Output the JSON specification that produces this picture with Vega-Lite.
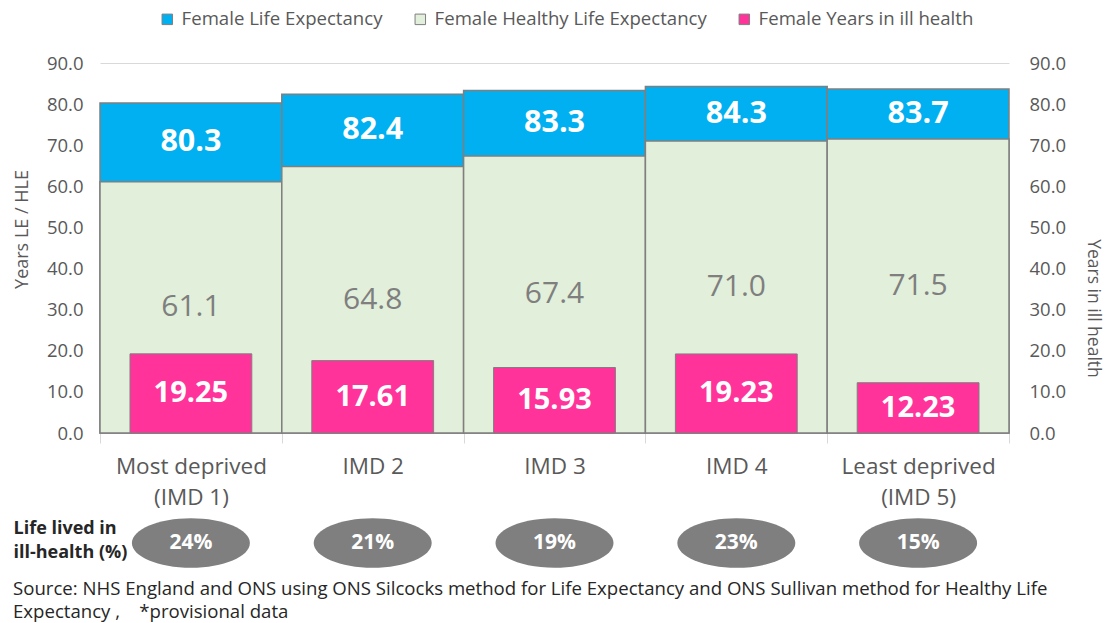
{
  "$schema": "https://vega.github.io/schema/vega-lite/v6.json",
  "padding": {"left": 13, "top": 10, "right": 8, "bottom": 2},
  "background": "white",
  "config": {"font": "Open Sans", "view": {"stroke": null}, "concat": {"spacing": 6}},
  "title": {
    "text": ["Source: NHS England and ONS using ONS Silcocks method for Life Expectancy and ONS Sullivan method for Healthy Life", "Expectancy ,\u00a0\u00a0\u00a0 *provisional data"],
    "orient": "bottom", "anchor": "start", "frame": "bounds",
    "fontSize": 18.6, "fontWeight": "normal", "color": "#262626", "lineHeight": 23, "offset": 9
  },
  "datasets": {
    "imd": [
      {"area": "Most deprived (IMD 1)", "le": 80.3, "hle": 61.1, "ill": 19.25, "pct": 0.24},
      {"area": "IMD 2", "le": 82.4, "hle": 64.8, "ill": 17.61, "pct": 0.21},
      {"area": "IMD 3", "le": 83.3, "hle": 67.4, "ill": 15.93, "pct": 0.19},
      {"area": "IMD 4", "le": 84.3, "hle": 71.0, "ill": 19.23, "pct": 0.23},
      {"area": "Least deprived (IMD 5)", "le": 83.7, "hle": 71.5, "ill": 12.23, "pct": 0.15}
    ]
  },
  "vconcat": [
    {
      "width": 909,
      "height": 370,
      "data": {"name": "imd"},
      "encoding": {
        "x": {
          "field": "area", "type": "nominal", "sort": null,
          "scale": {"paddingInner": 0, "paddingOuter": 0},
          "axis": {
            "title": null, "labelAngle": 0, "labelFontSize": 22.5, "labelColor": "#595959",
            "labelLineHeight": 31, "labelPadding": 12,
            "labelExpr": "split(replace(datum.label, ' (', '|('), '|')",
            "domain": false, "ticks": true, "tickBand": "extent", "tickColor": "#d9d9d9", "tickSize": 10, "grid": false
          }
        }
      },
      "layer": [
        {
          "layer": [
            {
              "mark": {"type": "bar", "stroke": "#7f7f7f", "strokeWidth": 1.5, "width": {"band": 1}},
              "encoding": {
                "y": {
                  "field": "le", "type": "quantitative", "title": "Years LE / HLE",
                  "scale": {"domain": [0, 90], "nice": false},
                  "axis": {
                    "values": [0, 10, 20, 30, 40, 50, 60, 70, 80, 90], "format": ".1f",
                    "titleFontSize": 18, "titleFontWeight": "normal", "titleColor": "#595959", "titlePadding": 15, "titleY": 166,
                    "labelFontSize": 18.5, "labelColor": "#595959", "labelPadding": 17,
                    "domain": false, "ticks": false, "grid": true, "gridColor": "#d9d9d9"
                  }
                },
                "color": {
                  "datum": "Female Life Expectancy",
                  "scale": {
                    "domain": ["Female Life Expectancy", "Female Healthy Life Expectancy", "Female Years in ill health"],
                    "range": ["#00B0F0", "#E2EFDA", "#FF3399"]
                  },
                  "legend": {
                    "orient": "none", "legendX": 58, "legendY": -53, "direction": "horizontal", "columns": 3,
                    "title": null, "symbolType": "square", "symbolSize": 110, "symbolStrokeColor": "#7f7f7f",
                    "symbolStrokeWidth": 1, "symbolOpacity": 1, "labelFontSize": 18.6, "labelColor": "#595959",
                    "labelLimit": 0, "columnPadding": 28, "labelOffset": 5
                  }
                }
              }
            },
            {
              "mark": {"type": "bar", "stroke": "#7f7f7f", "strokeWidth": 1.5, "width": {"band": 1}},
              "encoding": {
                "y": {"field": "hle", "type": "quantitative", "title": "Years LE / HLE", "scale": {"domain": [0, 90], "nice": false}},
                "color": {"datum": "Female Healthy Life Expectancy"}
              }
            },
            {
              "transform": [{"calculate": "(datum.le + datum.hle) / 2", "as": "le_mid"}],
              "mark": {"type": "text", "color": "white", "fontWeight": "bold", "fontSize": 30.5, "baseline": "middle"},
              "encoding": {
                "y": {"field": "le_mid", "type": "quantitative", "title": "Years LE / HLE", "scale": {"domain": [0, 90], "nice": false}},
                "text": {"field": "le", "type": "quantitative", "format": ".1f"}
              }
            },
            {
              "transform": [{"calculate": "datum.hle / 2", "as": "hle_mid"}],
              "mark": {"type": "text", "color": "#7f7f7f", "fontWeight": "normal", "fontSize": 30, "baseline": "middle"},
              "encoding": {
                "y": {"field": "hle_mid", "type": "quantitative", "title": "Years LE / HLE", "scale": {"domain": [0, 90], "nice": false}},
                "text": {"field": "hle", "type": "quantitative", "format": ".1f"}
              }
            }
          ]
        },
        {
          "layer": [
            {
              "mark": {"type": "bar", "stroke": "#7f7f7f", "strokeWidth": 1, "width": {"band": 0.67}},
              "encoding": {
                "y": {
                  "field": "ill", "type": "quantitative", "title": "Years in ill health",
                  "scale": {"domain": [0, 90], "nice": false},
                  "axis": {
                    "orient": "right", "values": [0, 10, 20, 30, 40, 50, 60, 70, 80, 90], "format": ".1f",
                    "titleFontSize": 17.5, "titleFontWeight": "normal", "titleColor": "#595959", "titlePadding": 18, "titleY": 245,
                    "labelFontSize": 18.5, "labelColor": "#595959", "labelPadding": 20,
                    "domain": false, "ticks": false, "grid": false
                  }
                },
                "color": {"datum": "Female Years in ill health"}
              }
            },
            {
              "transform": [{"calculate": "datum.ill / 2", "as": "ill_mid"}],
              "mark": {"type": "text", "color": "white", "fontWeight": "bold", "fontSize": 29, "baseline": "middle"},
              "encoding": {
                "y": {"field": "ill_mid", "type": "quantitative", "title": "Years in ill health", "scale": {"domain": [0, 90], "nice": false}},
                "text": {"field": "ill", "type": "quantitative", "format": ".2f"}
              }
            }
          ]
        }
      ],
      "resolve": {"scale": {"y": "independent"}}
    },
    {
      "width": 909,
      "height": 56,
      "data": {"name": "imd"},
      "encoding": {
        "x": {
          "field": "area", "type": "nominal", "sort": null,
          "scale": {"paddingInner": 0, "paddingOuter": 0},
          "axis": null
        },
        "y": {
          "datum": 0.5, "type": "quantitative",
          "scale": {"domain": [0, 1]},
          "axis": {
            "title": ["Life lived in", "ill-health (%)"], "titleAngle": 0, "titleAlign": "left", "titleBaseline": "middle",
            "titleX": -87, "titleY": 13, "titleFontSize": 18, "titleFontWeight": "bold", "titleColor": "#262626", "titleLineHeight": 24,
            "labels": false, "ticks": false, "domain": false, "grid": false
          }
        }
      },
      "layer": [
        {
          "mark": {"type": "point", "shape": "M-1,0A1,0.42,0,1,1,1,0A1,0.42,0,1,1,-1,0Z", "filled": true, "color": "#7f7f7f", "opacity": 1, "size": 13924}
        },
        {
          "mark": {"type": "text", "color": "white", "fontWeight": "bold", "fontSize": 21, "baseline": "middle"},
          "encoding": {"text": {"field": "pct", "type": "quantitative", "format": ".0%"}}
        }
      ]
    }
  ]
}
